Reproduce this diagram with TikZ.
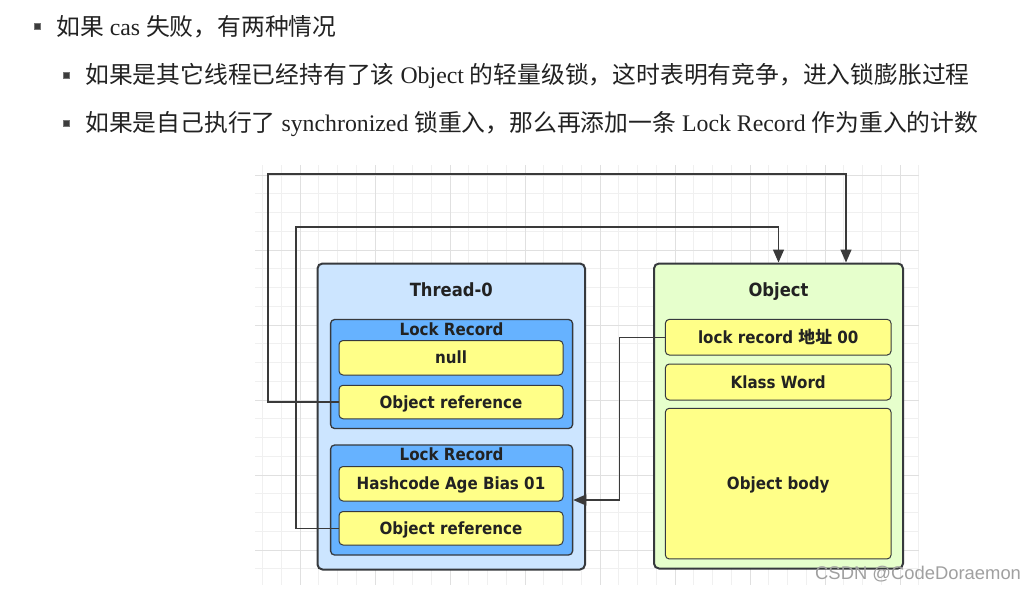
\documentclass[tikz,border=0pt]{standalone}
\usepackage{fontspec}
\setmainfont{Liberation Serif}
\newfontfamily\cjkfont{Noto Sans CJK SC}
\newfontfamily\diagfont[FakeStretch=0.9]{DejaVu Sans}
\newfontfamily\markfont{Liberation Sans}
\usetikzlibrary{arrows.meta}
\definecolor{threadfill}{HTML}{CCE5FF}
\definecolor{lrfill}{HTML}{66B2FF}
\definecolor{itemfill}{HTML}{FFFF88}
\definecolor{objfill}{HTML}{E6FFCC}
\definecolor{edgecol}{HTML}{36393D}
\definecolor{conncol}{HTML}{3A3A3A}
\definecolor{gridminor}{HTML}{F0F0F0}
\definecolor{gridmajor}{HTML}{E0E0E0}
\definecolor{txt}{HTML}{222222}
\definecolor{bulletcol}{HTML}{3C3C3C}
\definecolor{markcol}{HTML}{A0A0A0}
\begin{document}
\begin{tikzpicture}[x=1pt,y=-1pt,
  box/.style={draw=edgecol, rectangle, rounded corners=4pt, inner sep=0pt,
    font=\diagfont\bfseries\fontsize{16.8}{20}\selectfont, text=txt,
    text height=12.2pt, text depth=0pt},
  outerbox/.style={box, line width=2pt, rounded corners=5pt},
  recbox/.style={box, fill=lrfill, line width=1.3pt, minimum width=242pt},
  itembox/.style={box, fill=itemfill, line width=1pt, minimum width=224pt},
  objitem/.style={box, fill=itemfill, line width=1pt, minimum width=225.7pt},
  boxtitle/.style={anchor=base, inner sep=0pt, text=txt,
    font=\diagfont\bfseries\fontsize{18.2}{22}\selectfont},
  boxsub/.style={anchor=base, inner sep=0pt, text=txt,
    font=\diagfont\bfseries\fontsize{16.8}{20}\selectfont},
  conn/.style={draw=conncol, line width=1.3pt, -{Triangle[length=13pt,width=11pt]}},
  bulletsq/.style={rectangle, fill=bulletcol, draw=bulletcol!70, line width=0.6pt,
    minimum size=6pt, inner sep=0pt},
  textline/.style={anchor=base west, inner sep=0pt, text=txt,
    font=\fontsize{23.8}{28}\selectfont},
  watermark/.style={anchor=base west, inner sep=0pt, text=markcol,
    font=\markfont\fontsize{18.4}{22}\selectfont}
]
\useasboundingbox (0,0) rectangle (1036,590);
\fill[white] (0,0) rectangle (1036,590);

% background grid
\begin{scope}
  \clip (255,165) rectangle (919,585);
  \foreach \k in {-3,...,35} {
    \draw[gridminor, line width=0.8pt] (300+\k*18.75,165) -- (300+\k*18.75,585);
  }
  \foreach \k in {-1,...,22} {
    \draw[gridminor, line width=0.8pt] (255,175+\k*18.75) -- (919,175+\k*18.75);
  }
  \foreach \k in {-1,...,8} {
    \draw[gridmajor, line width=0.9pt] (300+\k*75,165) -- (300+\k*75,585);
  }
  \foreach \k in {0,...,5} {
    \draw[gridmajor, line width=0.9pt] (255,175+\k*75) -- (919,175+\k*75);
  }
\end{scope}

% top text
\node[bulletsq] (b1) at (37,26.5) {};
\node[textline] (l1) at (56,35) {{\cjkfont 如果} cas {\cjkfont 失败，有两种情况}};
\node[bulletsq] (b2) at (66.3,75) {};
\node[textline] (l2) at (85,83) {{\cjkfont 如果是其它线程已经持有了该} Object {\cjkfont 的轻量级锁，这时表明有竞争，进入锁膨胀过程}};
\node[bulletsq] (b3) at (66.3,123.7) {};
\node[textline] (l3) at (85,131.5) {{\cjkfont 如果是自己执行了} synchronized {\cjkfont 锁重入，那么再添加一条} Lock Record {\cjkfont 作为重入的计数}};

% Thread-0
\node[outerbox, fill=threadfill, minimum width=267.5pt, minimum height=306pt] (thread) at (451.25,416.5) {};
\node[boxtitle] (threadtitle) at (451.25,296) {Thread-0};
\node[recbox, minimum height=109pt] (lr1) at (451.6,374) {};
\node[boxsub] (lr1title) at (451.6,335) {Lock Record};
\node[itembox, minimum height=34.5pt] (null) at (451,357.75) {null};
\node[itembox, minimum height=33.5pt] (oref1) at (451,402) {Object reference};
\node[recbox, minimum height=110pt] (lr2) at (451.6,500) {};
\node[boxsub] (lr2title) at (451.6,460.5) {Lock Record};
\node[itembox, minimum height=34.5pt] (hash) at (451,483.75) {Hashcode Age Bias 01};
\node[itembox, minimum height=33.5pt] (oref2) at (451,528.25) {Object reference};

% Object
\node[outerbox, fill=objfill, minimum width=249pt, minimum height=305pt] (object) at (778.5,416) {};
\node[boxtitle] (objtitle) at (778.5,296) {Object};
\node[objitem, minimum height=35.7pt] (addr) at (778.2,337.2) {lock record {\cjkfont\bfseries 地址} 00};
\node[objitem, minimum height=36pt] (klass) at (778.2,382) {Klass Word};
\node[objitem, minimum height=150.7pt] (body) at (778.2,483.6) {Object body};

% connectors
\draw[conn] (oref1.west) -| (268,174) -| ([xshift=67.5pt]object.north);
\draw[conn] (oref2.west) -| (296,227) -| (object.north);
\draw[conn] (addr.west) -| (619.5,420) |- (lr2.east);

% watermark
\node[watermark] (mark) at (815,579.5) {CSDN @CodeDoraemon};
\end{tikzpicture}
\end{document}
